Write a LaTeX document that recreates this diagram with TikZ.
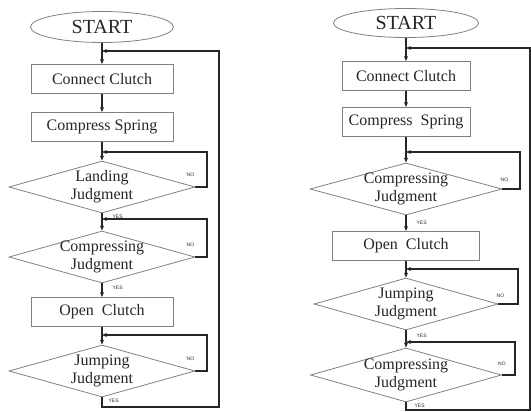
\documentclass[tikz,border=0pt]{standalone}
\usepackage{fontspec}
\setmainfont{Liberation Serif}
\newfontfamily\labelfont{Liberation Sans}
\usetikzlibrary{arrows.meta, shapes.geometric, positioning}

\begin{document}
\begin{tikzpicture}[x=1pt, y=-1pt,
      mystart/.style={
         ellipse,
         draw=gray,
         line width=0.8pt,
         inner sep=0pt,
         minimum width=143pt,
         minimum height=31pt,
         text=black!85,
         font=\fontsize{20}{22}\selectfont},
      mybox/.style={
         rectangle,
         draw=gray,
         line width=0.8pt,
         inner sep=0pt,
         minimum height=29pt,
         text=black!85,
         font=\fontsize{16}{18}\selectfont},
      mydiamond/.style={
         diamond,
         draw=gray,
         line width=0.8pt,
         inner sep=0pt,
         minimum width=186pt,
         minimum height=52pt},
      mytext/.style={align=center, inner sep=0pt, text=black!85,
         font=\fontsize{16}{18}\selectfont},
      myarrow/.style={-{Stealth[length=5pt,width=4pt]}, line width=1.2pt, draw=black!85},
      mylabel/.style={font=\labelfont\fontsize{5}{6}\selectfont, inner sep=0pt, text=black!85}
      ]
      \useasboundingbox (0,0) rectangle (531,412);

      % left chart
      \node[mystart]  at (102, 27) (start1) {START};
      \node[mybox, minimum width=142pt]  at (102, 79) (cc1) {Connect Clutch};
      \node[mybox, minimum width=142pt]  at (102, 127) (cs1) {Compress Spring};
      \node[mydiamond, label={[mytext]center:Landing\\Judgment}]  at (102, 187) (lj1) {};
      \node[mydiamond, label={[mytext]center:Compressing\\Judgment}]  at (102, 257) (cj1) {};
      \node[mybox, minimum width=142pt]  at (102, 312) (oc1) {Open~~Clutch};
      \node[mydiamond, label={[mytext]center:Jumping\\Judgment}]  at (102, 371) (jj1) {};
      \coordinate (in1) at (102, 51);

      % right chart
      \node[mystart, minimum width=145pt, minimum height=29pt]  at (406, 23) (start2) {START};
      \node[mybox, minimum width=128pt]  at (406, 76) (cc2) {Connect Clutch};
      \node[mybox, minimum width=128pt]  at (406, 122) (cs2) {Compress~~Spring};
      \node[mydiamond, minimum width=192pt, label={[mytext]center:Compressing\\Judgment}]  at (406, 189) (cj2) {};
      \node[mybox, minimum width=147pt]  at (406, 246) (oc2) {Open~~Clutch};
      \node[mydiamond, minimum width=184pt, label={[mytext]center:Jumping\\Judgment}]  at (406, 304) (jj2) {};
      \node[mydiamond, minimum width=191pt, minimum height=54pt, label={[mytext]center:Compressing\\Judgment}]  at (406, 375) (cj3) {};
      \coordinate (in2) at (406, 48);

      % main flow
      \foreach \i/\j in {start1/cc1, cc1/cs1, cs1/lj1, oc1/jj1,
                         start2/cc2, cc2/cs2, cs2/cj2, oc2/jj2}
       \draw [myarrow] (\i) -- (\j);

      \foreach \i/\j/\pp in {lj1/cj1/0.2, cj1/oc1/0.35, cj2/oc2/0.45, jj2/cj3/0.3}
       \draw [myarrow] (\i) -- node[mylabel, right=10pt, pos=\pp] (yes-\i) {YES} (\j);

      % NO loops
      \foreach \d/\t/\r/\nx/\ny in {% node/top of loop/right side/label shift
        lj1/152/207/-5/12,
        cj1/219/207/-5/12,
        jj1/335/207/-5/12,
        cj2/152/520/2/9,
        jj2/269/518/2/8,
        cj3/342/515/0/11
        }{
       \draw [myarrow] (\d.east) -| (\r,\t) -- (\d.north |- 0,\t);
       \node[mylabel] at ([xshift=\nx pt, yshift=\ny pt]\d.east) (no-\d) {NO};
      }

      % back to the start
      \draw [myarrow] (jj1.south) -- node[mylabel, right=6pt, pos=0.3] (yes-jj1) {YES}
            (102, 407) -| (219, 51) -- (in1);
      \draw [myarrow] (cj3.south) -- node[mylabel, right=8pt, pos=0.5] (yes-cj3) {YES}
            (406, 410) -| (530, 48) -- (in2);

    \end{tikzpicture}
\end{document}
